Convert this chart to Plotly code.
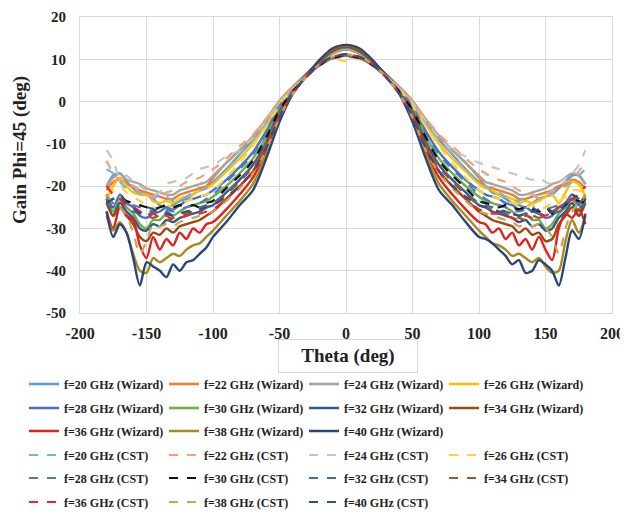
import plotly.graph_objects as go

THETA = [-180, -175, -170, -165, -160, -155, -150, -145, -140, -135, -130, -125, -120, -115, -110, -105, -100,
         -90, -80, -70, -60, -50, -40, -30, -20, -10, 0, 10, 20, 30, 40, 50, 60, 70, 80, 90,
         100, 105, 110, 115, 120, 125, 130, 135, 140, 145, 150, 155, 160, 165, 170, 175, 180]

X_TICKS = [-200, -150, -100, -50, 0, 50, 100, 150, 200]
X_TICK_TEXT = ['-200', '-150', '-100', '-50', '0', '50', '100', '150', '200']
Y_TICKS = [-50, -40, -30, -20, -10, 0, 10, 20]
Y_TICK_TEXT = ['-50', '-40', '-30', '-20', '-10', '0', '10', '20']

# Wizard (solid)
w20 = [-20, -17.5, -17, -19, -20.5, -22, -22, -23, -24.5, -25, -24.5, -23.5, -23, -22, -21, -20.5, -19,
       -16, -12.5, -9, -4.8, -0.2, 3.3, 6.4, 9.0, 11.3, 12.3, 11.3, 9.0, 6.4, 3.3, -0.2, -4.8, -9, -12.5, -16,
       -19, -20, -21.5, -22, -23, -24, -24.5, -25, -24, -23, -22.5, -22, -20.5, -19, -17.5, -17.5, -19.5]
w22 = [-21, -19, -18.5, -19.5, -20, -21, -21.5, -22, -22.5, -23, -23, -22, -21.5, -21, -20.5, -20, -18,
       -14.5, -11.5, -8.2, -4.2, 0.2, 3.5, 6.5, 9.1, 11.4, 12.4, 11.4, 9.1, 6.5, 3.5, 0.2, -4.2, -8.2, -11.5, -14.5,
       -18, -20, -20.5, -21, -21.5, -22, -23, -23, -22.5, -22, -21.5, -21, -20, -19.5, -18.5, -19, -20.5]
w24 = [-20, -18, -17, -18.5, -19, -19.5, -20.5, -21, -21.5, -22, -22, -21, -20.5, -20, -19.5, -19, -17.5,
       -14.5, -11.5, -8.5, -4.5, 0, 3.4, 6.5, 9.1, 11.5, 12.5, 11.5, 9.1, 6.5, 3.4, 0, -4.5, -8.5, -11.5, -14.5,
       -17.5, -19, -19.5, -20, -20.5, -21, -22, -22, -21.5, -21, -20.5, -19.5, -19, -18, -17, -17.5, -19.5]
w26 = [-23, -20, -18, -20, -21.5, -22, -22, -23.5, -24, -23.5, -24, -23, -22.5, -22, -21, -20.5, -19.5,
       -16.5, -13.5, -10, -5.5, -0.5, 3.2, 6.4, 9.2, 11.6, 12.7, 11.6, 9.2, 6.4, 3.2, -0.5, -5.5, -10, -13.5, -16.5,
       -19.5, -20.5, -21, -22, -22.5, -23, -24, -23.5, -24, -23.5, -22.5, -22, -24, -21.5, -19, -19.5, -22.5]
w28 = [-22, -25, -22, -24, -25, -27, -27.5, -26.5, -26, -25, -25.5, -24.5, -23.5, -23, -22.5, -22, -21,
       -18.5, -15.5, -12, -7, -1.2, 3.0, 6.4, 9.3, 11.8, 12.8, 11.8, 9.3, 6.4, 3.0, -1.2, -7, -12, -15.5, -18.5,
       -21, -22, -22.5, -23, -24, -24.5, -25.5, -25, -26, -26.5, -27.5, -27, -25, -24, -22, -24.5, -22.5]
w30 = [-22, -26, -23, -25, -26.5, -29, -30, -28, -28, -26.5, -27, -26, -25, -24.5, -24, -23.5, -22.5,
       -20, -17, -13.5, -8.2, -1.8, 2.8, 6.3, 9.4, 11.9, 12.9, 11.9, 9.4, 6.3, 2.8, -1.8, -8.2, -13.5, -17, -20,
       -22.5, -23.5, -24, -24.5, -25, -26, -27, -26.5, -28, -28, -30, -29, -26.5, -25, -23, -26, -22.5]
w32 = [-23, -27, -24, -26, -27.5, -30, -30.5, -29, -29.5, -28, -28.5, -27.5, -27, -26.5, -26, -25, -24.5,
       -21.5, -18.5, -15, -9.5, -2.4, 2.6, 6.3, 9.5, 12.0, 13.0, 12.0, 9.5, 6.3, 2.6, -2.4, -9.5, -15, -18.5, -21.5,
       -24.5, -25, -26, -26.5, -27, -27.5, -28.5, -28, -29.5, -29, -30.5, -30, -27.5, -26, -24, -27, -23]
w34 = [-24, -27, -25, -27, -29, -32, -33, -31, -31.5, -30, -31, -29.5, -29, -28.5, -28, -27, -26,
       -23, -20, -16.5, -10.5, -3, 2.4, 6.2, 9.6, 12.2, 13.1, 12.2, 9.6, 6.2, 2.4, -3, -10.5, -16.5, -20, -23,
       -26, -27, -28, -28.5, -29, -29.5, -31, -30, -31.5, -31, -33, -32.5, -29, -27, -25, -27, -24]
w36 = [-26, -30, -25, -27, -28, -34, -37, -32, -35, -32.5, -34, -31, -32.5, -30, -31, -29, -28.5,
       -25.5, -22, -18, -11.5, -3.6, 2.2, 6.1, 9.7, 12.3, 13.2, 12.3, 9.7, 6.1, 2.2, -3.6, -11.5, -18, -22, -25.5,
       -28.5, -29, -31, -30, -32.5, -31, -34, -32.5, -35, -32, -35, -37.5, -30, -26.5, -27.5, -25.5, -29]
w38 = [-27, -30.5, -28.5, -31, -36, -40, -40.5, -37, -38, -37, -36, -36.5, -35, -34, -33.5, -32, -30.5,
       -27, -23.5, -19.5, -12.5, -4.2, 2.0, 6.0, 9.7, 12.5, 13.3, 12.5, 9.7, 6.0, 2.0, -4.2, -12.5, -19.5, -23.5, -27,
       -30.5, -32, -33.5, -34, -35, -36.5, -36, -37, -38, -37, -39, -40.5, -40, -33, -28, -31, -27]
w40 = [-26, -32, -29, -31, -37, -43.5, -38, -39, -40, -41.5, -38.5, -40, -38, -37.5, -36, -34.5, -32,
       -28.5, -24.5, -21, -13.5, -4.8, 1.8, 6.0, 9.8, 12.6, 13.4, 12.6, 9.8, 6.0, 1.8, -4.8, -13.5, -21, -24.5, -28.5,
       -32, -32.5, -33.5, -35, -36.5, -38.5, -37.5, -40.5, -40, -37.5, -38.5, -40, -43.5, -37, -30.5, -32.5, -26.5]

# CST (dashed)
c20 = [-16, -17, -19, -20.5, -21, -21.5, -22, -23, -22, -22.5, -23.5, -23, -22.5, -21.5, -21, -20.5, -19,
       -16, -12.5, -9, -5, -0.5, 3, 6, 8.6, 10.3, 10.9, 10.3, 8.6, 6, 3, -0.5, -5, -9, -12.5, -16,
       -19, -20, -21, -21.5, -22.5, -23, -23.5, -22.5, -22, -23, -22.5, -21.5, -21, -20, -19, -17.5, -16]
c22 = [-14, -17, -18.5, -19, -20, -21, -22, -22.5, -22, -21.5, -21, -20, -19, -18.5, -18, -17, -16,
       -13.5, -10.5, -7.8, -4, 0, 3.2, 6.1, 8.6, 10.2, 10.8, 10.2, 8.6, 6.1, 3.2, 0, -4, -7.8, -10.5, -13.5,
       -16, -17, -18, -18.5, -19, -20, -21, -21.5, -22, -22.5, -22, -21, -20, -19, -18.5, -16.5, -14.5]
c24 = [-11.5, -14, -18, -17.5, -19, -20, -21, -22, -21.5, -19.5, -19, -18.5, -18, -17, -16, -15.5, -15,
       -13, -11.5, -8.5, -4.5, -0.2, 3.1, 6, 8.5, 10.3, 11.0, 10.3, 8.5, 6, 3.1, -0.2, -4.5, -8.5, -11.5, -13,
       -14.5, -15, -15.5, -16, -16.5, -17, -17.5, -18, -18.5, -18, -19, -19.5, -19, -18, -17, -15, -11.5]
c26 = [-22, -21, -20, -21.5, -22.5, -23.5, -24.5, -25, -25.5, -24.5, -25, -24, -23.5, -23, -22.5, -22, -21,
       -18, -14.5, -10.5, -6, -1, 2.8, 5.9, 8.4, 10, 9.6, 10, 8.4, 5.9, 2.8, -1, -6, -10.5, -14.5, -18,
       -21, -22, -22.5, -23, -23.5, -24, -24.5, -25, -24.5, -25.5, -25, -24, -23.5, -22.5, -21, -21, -22]
c28 = [-23, -24, -22, -24, -24.5, -25, -25.5, -26, -25, -25.5, -26, -25.5, -25, -24.5, -24, -23, -22,
       -19, -16, -12.5, -7.5, -1.5, 2.6, 5.9, 8.5, 10.2, 10.6, 10.2, 8.5, 5.9, 2.6, -1.5, -7.5, -12.5, -16, -19,
       -22, -23, -24, -24.5, -25, -25.5, -26, -25.5, -25, -26, -25.5, -25, -24.5, -24, -22, -24, -23]
c30 = [-24, -23, -22.5, -23.5, -24, -24.5, -25, -25.5, -25, -24.5, -25, -24.5, -25, -24.5, -25, -24, -23.5,
       -20.5, -17.5, -14, -8.5, -2, 2.4, 5.8, 8.6, 10.3, 10.8, 10.3, 8.6, 5.8, 2.4, -2, -8.5, -14, -17.5, -20.5,
       -23.5, -24, -24.5, -25, -24.5, -25, -25.5, -25, -25.5, -26, -25, -26.5, -26, -24.5, -23, -23.5, -24]
c32 = [-24, -25, -23, -25, -26, -26.5, -27, -26, -26.5, -26, -27, -26.5, -26, -25.5, -25, -24.5, -24,
       -21.5, -18.5, -15, -9.5, -2.6, 2.2, 5.8, 8.6, 10.4, 10.9, 10.4, 8.6, 5.8, 2.2, -2.6, -9.5, -15, -18.5, -21.5,
       -24, -24.5, -25, -25.5, -26, -26.5, -27, -26.5, -26, -26.5, -27, -26.5, -26, -25, -23, -25, -24]
c34 = [-22, -24, -23, -24, -25, -26, -27, -27.5, -27, -28, -27.5, -27, -26.5, -26, -25.5, -25, -24.5,
       -22, -19, -15.5, -10, -3, 2, 5.8, 8.7, 10.5, 11.0, 10.5, 8.7, 5.8, 2, -3, -10, -15.5, -19, -22,
       -24.5, -25, -25.5, -26, -26.5, -27, -27.5, -28, -27, -27.5, -27, -26, -25, -24, -23, -24, -22]
c36 = [-20, -22, -23, -25, -25, -26, -27, -26.5, -27.5, -27, -28, -27.5, -27, -26.5, -26.5, -26, -25.5,
       -23, -20, -16.5, -11, -3.5, 1.9, 5.8, 8.8, 10.6, 11.1, 10.6, 8.8, 5.8, 1.9, -3.5, -11, -16.5, -20, -23,
       -25.5, -26, -26.5, -26.5, -27, -27.5, -28, -27, -27.5, -26.5, -27, -26, -25, -25, -23, -22, -20]
c38 = [-22, -24, -25, -27, -31, -36, -33, -29, -29.5, -29, -29.5, -28.5, -28, -27.5, -27, -26.5, -26,
       -23.5, -20.5, -17, -11.5, -3.8, 1.8, 5.8, 8.8, 10.6, 11.2, 10.6, 8.8, 5.8, 1.8, -3.8, -11.5, -17, -20.5, -23.5,
       -26, -26.5, -27, -27.5, -28, -28.5, -29.5, -29, -29.5, -29, -30, -32, -36, -30, -26, -24, -22]
c40 = [-24, -23, -22, -24, -25, -26.5, -25, -25.5, -26, -26.5, -27, -26.5, -26, -26, -25.5, -25, -24.5,
       -22.5, -20, -16.5, -11, -3.6, 1.9, 5.8, 8.8, 10.6, 11.2, 10.6, 8.8, 5.8, 1.9, -3.6, -11, -16.5, -20, -22.5,
       -24.5, -25, -25.5, -26, -26, -26.5, -27, -26.5, -26, -25.5, -25, -26, -26.5, -24, -22, -23, -24]

FREQS = [20, 22, 24, 26, 28, 30, 32, 34, 36, 38, 40]
WIZARD = [w20, w22, w24, w26, w28, w30, w32, w34, w36, w38, w40]
CST = [c20, c22, c24, c26, c28, c30, c32, c34, c36, c38, c40]
W_COLORS = ['#5B9BD5', '#ED7D31', '#A5A5A5', '#FFC000', '#4472C4', '#70AD47',
            '#2E5C8A', '#9E480E', '#E3211C', '#A88A1E', '#2A4677']
C_COLORS = ['#7FAEDC', '#F2A27A', '#C4C4C4', '#FFD23F', '#5278C2', '#111111',
            '#3A6EA8', '#A2542A', '#F0261E', '#C9A35A', '#33507F']

FONT = 'Liberation Serif, Times New Roman, serif'

fig = go.Figure()
legend_names = ['legend', 'legend2', 'legend3', 'legend4', 'legend5', 'legend6']

for i, f in enumerate(FREQS):
    fig.add_trace(go.Scatter(
        x=THETA, y=WIZARD[i], mode='lines', name=f'f={f} GHz (Wizard)',
        line=dict(color=W_COLORS[i], width=2.4, shape='spline', smoothing=0.8),
        legend=legend_names[i // 4]))
for i, f in enumerate(FREQS):
    fig.add_trace(go.Scatter(
        x=THETA, y=CST[i], mode='lines', name=f'f={f} GHz (CST)',
        line=dict(color=C_COLORS[i], width=2.2, dash='dash', shape='spline', smoothing=0.8),
        legend=legend_names[3 + i // 4]))

# The page body has an 8px margin; figure is sized so it fits the 628x527 window.
OFF = 8
FIG_W, FIG_H = 628 - OFF, 527 - OFF
# plot area target in page pixels: x 80..612, y 17..313
PL, PW, PT, PH = 80, 532, 17, 296
row_y = [384, 408, 431, 455, 478, 502]
leg_common = dict(orientation='h', xref='paper', yref='paper', xanchor='left',
                  yanchor='middle', entrywidth=95, entrywidthmode='pixels',
                  bgcolor='rgba(0,0,0,0)', font=dict(family=FONT, size=12, color='#222', weight='bold'))
legend_layout = {}
for k, name in enumerate(legend_names):
    legend_layout[name] = dict(x=(24 - PL) / PW, y=(PT + PH - row_y[k]) / PH, **leg_common)

grid = '#D9D9D9'
fig.update_layout(
    width=FIG_W, height=FIG_H,
    margin=dict(l=PL - OFF, r=FIG_W - (PL - OFF) - PW, t=PT - OFF, b=FIG_H - (PT - OFF) - PH, autoexpand=False),
    paper_bgcolor='white', plot_bgcolor='white',
    showlegend=True,
    xaxis=dict(range=[-200, 200], tickmode='array', tickvals=X_TICKS, ticktext=X_TICK_TEXT,
               showgrid=True, gridcolor=grid, gridwidth=1,
               zeroline=True, zerolinecolor=grid, zerolinewidth=1,
               showline=True, linecolor=grid, mirror=True, ticks='',
               ticklabelstandoff=6, automargin=False, ticklabeloverflow='allow',
               tickfont=dict(family=FONT, size=16, color='#222', weight='bold')),
    yaxis=dict(range=[-50, 20], tickmode='array', tickvals=Y_TICKS, ticktext=Y_TICK_TEXT,
               showgrid=True, gridcolor=grid, gridwidth=1,
               zeroline=True, zerolinecolor=grid, zerolinewidth=1,
               showline=True, linecolor=grid, mirror=True, ticks='',
               ticklabelstandoff=10, automargin=False, ticklabeloverflow='allow',
               tickfont=dict(family=FONT, size=15, color='#222', weight='bold')),
    annotations=[
        dict(text='Gain Phi=45 (deg)', xref='paper', yref='paper', x=(20 - PL) / PW, y=(PT + PH - 150) / PH,
             showarrow=False, textangle=-90, xanchor='center', yanchor='middle',
             font=dict(family=FONT, size=19, color='#222', weight='bold')),
        dict(text='Theta (deg)', xref='paper', yref='paper', x=(348 - PL) / PW, y=(PT + PH - 356) / PH,
             showarrow=False, xanchor='center', yanchor='middle', width=130, height=24,
             bordercolor=grid, borderwidth=1, borderpad=4, bgcolor='white',
             font=dict(family=FONT, size=19, color='#222', weight='bold')),
    ],
    **legend_layout,
)

fig.write_html('out.html')
